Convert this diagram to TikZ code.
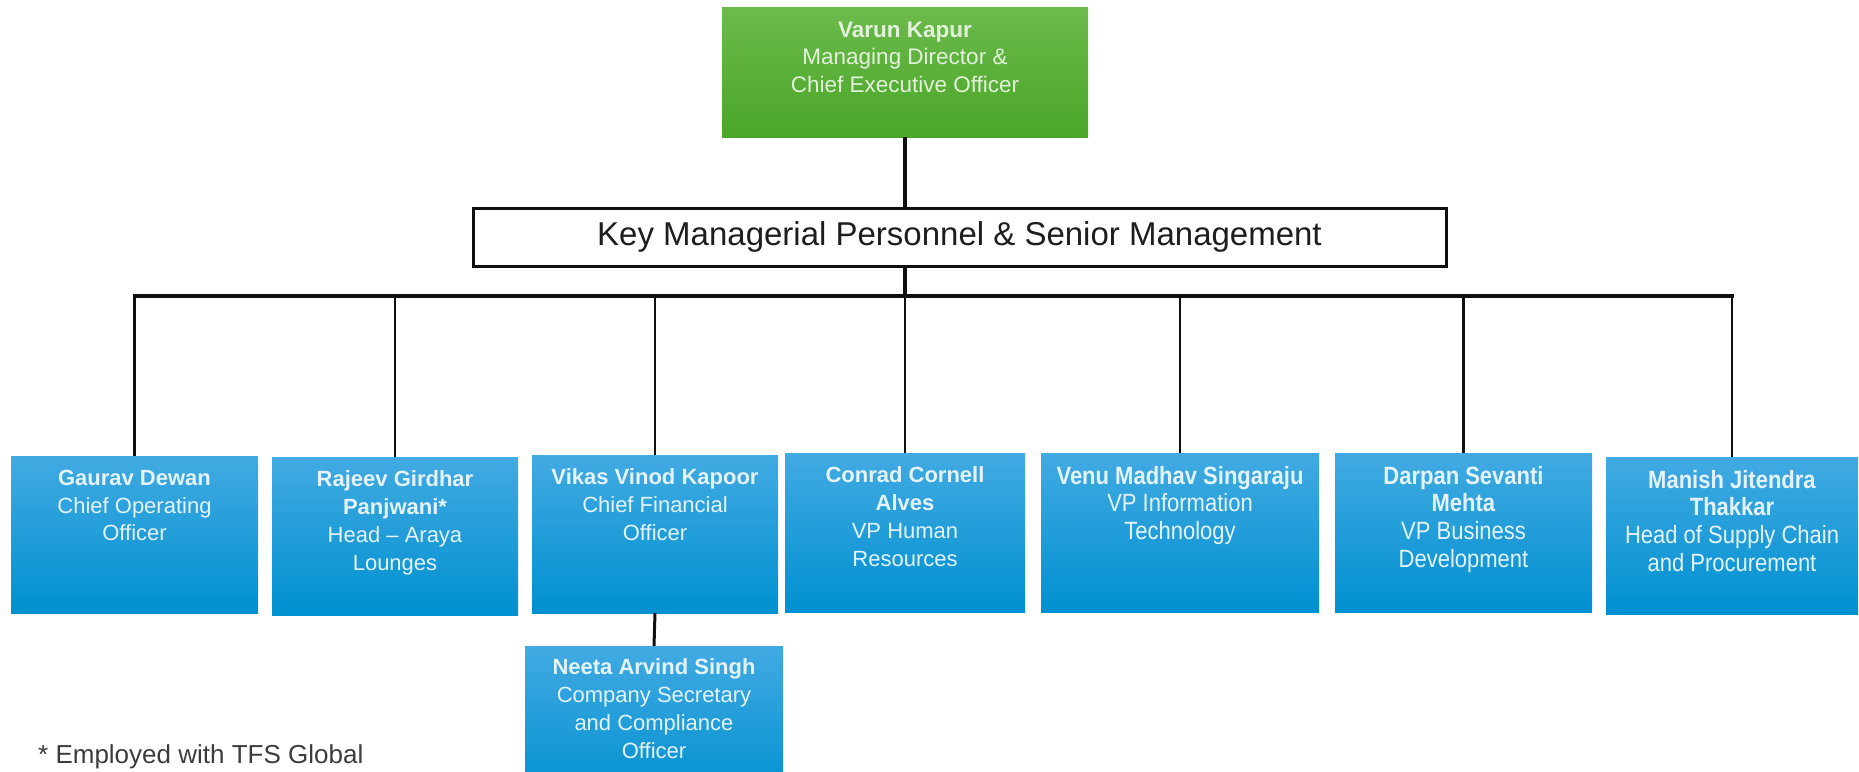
\documentclass[tikz,border=0pt]{standalone}
\usepackage{fontspec}
\setmainfont{Liberation Sans}
\newfontfamily\condf[FakeStretch=0.88]{Liberation Sans}
\definecolor{bluetop}{RGB}{66,170,226}
\definecolor{bluebot}{RGB}{0,144,208}
\definecolor{greentop}{RGB}{108,186,76}
\definecolor{greenbot}{RGB}{74,166,40}
\definecolor{boxtext}{RGB}{228,243,251}
\definecolor{greentext}{RGB}{226,242,218}
\definecolor{notegray}{RGB}{60,60,60}
\definecolor{linecol}{RGB}{15,15,15}
\begin{document}
\begin{tikzpicture}[x=1pt,y=-1pt,
  bluebox/.style={rectangle, inner sep=0pt, top color=bluetop, bottom color=bluebot, draw=none},
  greenbox/.style={rectangle, inner sep=0pt, top color=greentop, bottom color=greenbot, draw=none},
  kmpbox/.style={rectangle, inner sep=0pt, draw=linecol, line width=3pt, fill=white},
  boxlabel/.style={inner sep=0pt, align=center, text=boxtext, font=\fontsize{22}{27.8}\selectfont},
  condlabel/.style={inner sep=0pt, align=center, text=boxtext, font=\condf\fontsize{25}{27.8}\selectfont},
  greenlabel/.style={inner sep=0pt, align=center, text=greentext, font=\fontsize{22.5}{27.5}\selectfont},
  busline/.style={draw=linecol, line width=3.3pt, line cap=rect},
  drop/.style={draw=linecol, line width=2.6pt},
  thickline/.style={draw=linecol, line width=4pt}
]
\useasboundingbox (0,0) rectangle (1859,771);
\clip (0,0) rectangle (1859,771);

% top box
\node[greenbox, minimum width=366pt, minimum height=130pt] (ceo) at (905,72) {};
\node[greenlabel, anchor=north] (ceot) at ([yshift=-15pt]ceo.north)
  {\textbf{Varun Kapur}\\Managing Director \&\\Chief Executive Officer};

% KMP box
\node[kmpbox, minimum width=973pt, minimum height=58pt,
  font=\fontsize{33}{38}\selectfont, text={rgb,255:red,30;green,30;blue,30}] (kmp) at (959.5,237)
  {Key Managerial Personnel \& Senior Management};

% blue boxes
\node[bluebox, minimum width=247pt, minimum height=157pt] (b1) at (134.5,534.5) {};
\node[bluebox, minimum width=246pt, minimum height=158pt] (b2) at (395,536) {};
\node[bluebox, minimum width=246pt, minimum height=158pt] (b3) at (655,534) {};
\node[bluebox, minimum width=240pt, minimum height=159pt] (b4) at (905,532.5) {};
\node[bluebox, minimum width=278pt, minimum height=159pt] (b5) at (1180,532.5) {};
\node[bluebox, minimum width=257pt, minimum height=159pt] (b6) at (1463.5,532.5) {};
\node[bluebox, minimum width=252pt, minimum height=157pt] (b7) at (1732,535.5) {};
\node[bluebox, minimum width=258pt, minimum height=154pt] (b8) at (654,723) {};

\node[boxlabel, anchor=north] (t1) at ([yshift=-14pt]b1.north)
  {\textbf{Gaurav Dewan}\\Chief Operating\\Officer};
\node[boxlabel, anchor=north] (t2) at ([yshift=-14pt]b2.north)
  {\textbf{Rajeev Girdhar}\\\textbf{Panjwani*}\\Head – Araya\\Lounges};
\node[boxlabel, anchor=north] (t3) at ([yshift=-14pt]b3.north)
  {\textbf{Vikas Vinod Kapoor}\\Chief Financial\\Officer};
\node[boxlabel, anchor=north] (t4) at ([yshift=-14pt]b4.north)
  {\textbf{Conrad Cornell}\\\textbf{Alves}\\VP Human\\Resources};
\node[condlabel, anchor=north] (t5) at ([yshift=-13pt]b5.north)
  {\textbf{Venu Madhav Singaraju}\\VP Information\\Technology};
\node[condlabel, anchor=north] (t6) at ([yshift=-13pt]b6.north)
  {\textbf{Darpan Sevanti}\\\textbf{Mehta}\\VP Business\\Development};
\node[condlabel, anchor=north] (t7) at ([yshift=-13pt]b7.north)
  {\textbf{Manish Jitendra}\\\textbf{Thakkar}\\Head of Supply Chain\\and Procurement};
\node[boxlabel, anchor=north] (t8) at ([yshift=-13pt]b8.north)
  {\textbf{Neeta Arvind Singh}\\Company Secretary\\and Compliance\\Officer};

% connectors
\coordinate (bus) at (905,296);
\draw[thickline] (ceo.south) -- (ceo.south |- kmp.north);
\draw[thickline] (bus |- kmp.south) -- (bus);
\draw[busline] (b1.north |- bus) -- (b7.north |- bus);
\foreach \b in {b1,b2,b3,b4,b5,b6,b7}
  \draw[drop] (\b.north |- bus) -- (\b.north);
\draw[drop, line width=3pt] (b3.south) -- (b8.north);

% footnote
\node[anchor=base west, inner sep=0pt, text=notegray, font=\fontsize{26}{30}\selectfont] (note) at (38,763)
  {* Employed with TFS Global};
\end{tikzpicture}
\end{document}
